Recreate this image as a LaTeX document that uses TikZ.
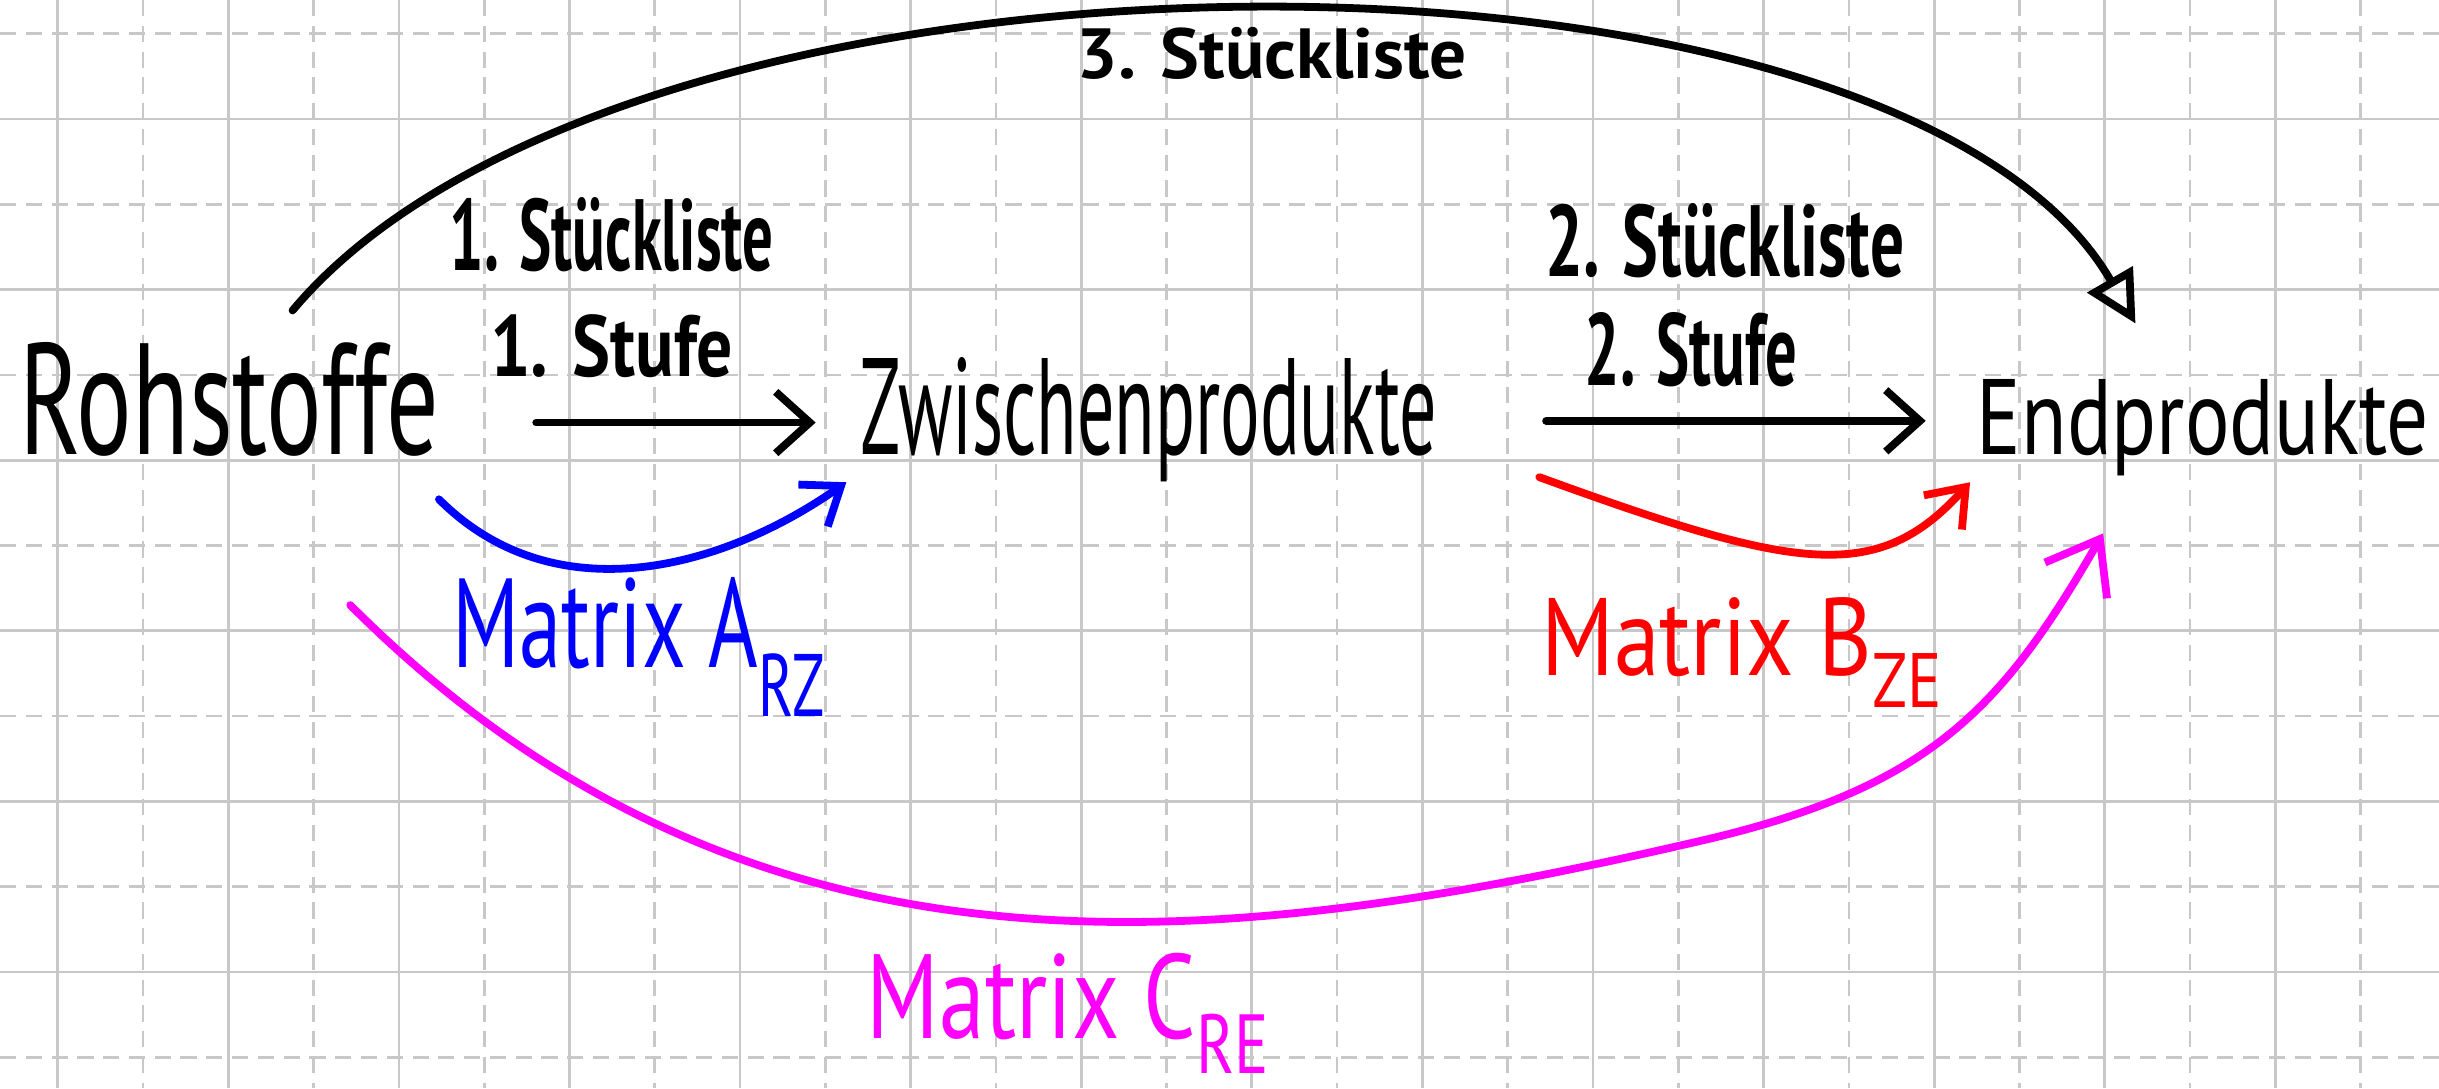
\documentclass[tikz,border=0pt]{standalone}
\usepackage{fontspec}
\setmainfont{PT Sans}
\usepackage{graphicx}
\usepackage{xcolor}
\usepackage{tikz}
\usetikzlibrary{arrows.meta,positioning}
\definecolor{cGrid}{HTML}{C8C8C8}
\definecolor{cRZ}{HTML}{0000FF}
\definecolor{cZE}{HTML}{FF0000}
\definecolor{cRE}{HTML}{FF00FF}
\newcommand{\hand}[3]{\resizebox{#1}{#2}{#3}}
\newcommand{\lowsub}[2]{\raisebox{#1}{\scriptsize #2}}
\tikzset{
  gridline/.style = {draw=cGrid, line width=0.45pt},
  griddash/.style = {gridline, dash pattern=on 2.7pt off 1.6pt},
  word/.style     = {inner sep=0pt, outer sep=0pt},
  tag/.style      = {word, font=\bfseries},
  ink/.style      = {line width=1.3pt, line cap=round, line join=round},
  flow/.style     = {ink, -{Straight Barb[length=2mm, width=3.6mm]}},
  bigflow/.style  = {ink, -{Triangle[open, length=3mm, width=3mm]}},
  matflow/.style  = {ink, -{Straight Barb[length=2mm, width=3mm]}},
  cflow/.style    = {ink, -{Straight Barb[length=2.8mm, width=4.2mm]}},
}

\begin{document}
\begin{tikzpicture}
  \fill[white] (0,0) rectangle (14.297,-6.378);
  \useasboundingbox (0,0) rectangle (14.297,-6.378);
  % squared paper
  \begin{scope}
    \clip (0,0) rectangle (14.297,-6.378);
    \foreach \i in {0,...,13} {
      \draw[gridline] (0.338+\i,0) -- ++(0,-6.378);
      \draw[griddash] (0.838+\i,0) -- ++(0,-6.378);
    }
    \foreach \j in {0,...,6} {
      \draw[gridline] (0,-0.698-\j) -- ++(14.297,0);
      \draw[griddash] (0,-0.198-\j) -- ++(14.297,0);
    }
  \end{scope}
  % the three stages
  \node[word, anchor=base] (rs) at (1.345,-2.667) {\hand{2.456cm}{0.657cm}{Rohstoffe}};
  \node[word, base right=2.468cm of rs] (zw) {\hand{3.382cm}{0.569cm}{Zwischenprodukte}};
  \node[word, base right=3.165cm of zw] (ep) {\hand{2.65cm}{0.44cm}{Endprodukte}};
  % stufen
  \draw[flow, shorten <=5.7mm, shorten >=2.6mm] ([yshift=1.9mm]rs.base east)
    -- node[tag, pos=.41, above=2.6mm] (s1) {\hand{1.424cm}{0.363cm}{1. Stufe}}
    ([yshift=1.9mm]zw.base west);
  \node[tag, above=2.5mm of s1] (l1) {\hand{1.899cm}{0.428cm}{1. Stückliste}};
  \draw[flow, shorten <=6.4mm, shorten >=3mm] ([yshift=2mm]zw.base east)
    -- node[tag, pos=.47, above=2mm] (s2) {\hand{1.243cm}{0.428cm}{2. Stufe}}
    ([yshift=2mm]ep.base west);
  \node[tag, above=2mm of s2, xshift=2mm] (l2) {\hand{2.104cm}{0.428cm}{2. Stückliste}};
  \draw[bigflow] ([xshift=3.7mm, yshift=1.9mm]rs.north)
    .. controls +(50:3.07) and +(120:2.79) .. ([xshift=9.3mm, yshift=3.3mm]ep.north west)
    node[tag, pos=.5, below=0.9mm, xshift=1.2mm] (l3) {\hand{2.286cm}{0.30cm}{3. Stückliste}};
  % matrices
  \draw[matflow, draw=cRZ] ([yshift=-2.6mm]rs.base east)
    .. controls +(-45:0.95) and +(-145:0.9) .. ([xshift=-0.8mm, yshift=-1.6mm]zw.base west)
    node[word, text=cRZ, pos=.5, below=0.6mm] (mA) {\hand{2.18cm}{0.528cm}{Matrix A\lowsub{-3.9pt}{RZ}}};
  \draw[matflow, draw=cZE] ([xshift=6mm, yshift=-1.3mm]zw.base east)
    .. controls +(-20:1.61) and +(-132:0.81) .. ([xshift=-0.4mm, yshift=-1.6mm]ep.base west)
    node[word, text=cZE, pos=.5, below=2.6mm, xshift=-4.4mm] (mB) {\hand{2.35cm}{0.457cm}{Matrix B\lowsub{-2.9pt}{ZE}}};
  \coordinate (cbend) at (9.965,-4.930);
  \draw[cflow, draw=cRE] ([xshift=-5.2mm, yshift=-8.8mm]rs.base east)
    .. controls +(-45:3.36) and +(193:2.85) .. (cbend)
    node[word, text=cRE, pos=.55, below=1.9mm] (mC) {\hand{2.356cm}{0.50cm}{Matrix C\lowsub{-2.9pt}{RE}}}
    .. controls +(13:1.39) and +(240:1.18) .. ([xshift=7.4mm, yshift=-4.6mm]ep.base west);
\end{tikzpicture}
\end{document}
